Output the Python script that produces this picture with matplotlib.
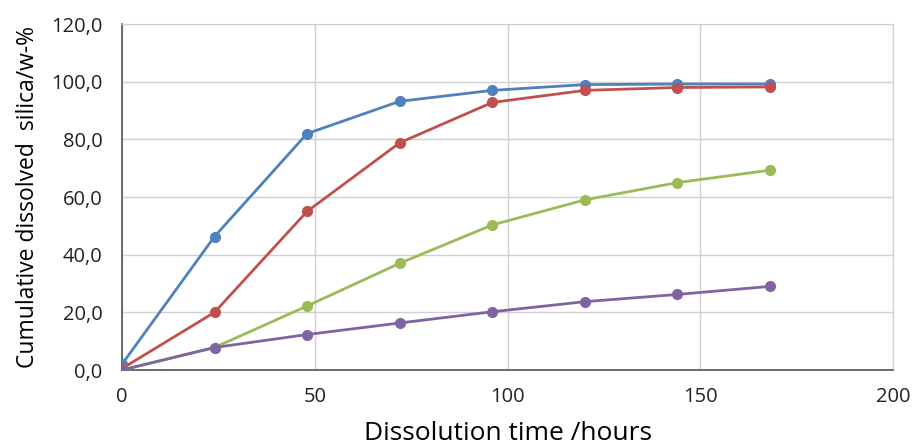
import matplotlib.pyplot as plt
from matplotlib.ticker import FuncFormatter

plt.rcParams['font.family'] = ['Open Sans', 'DejaVu Sans']

hours = [0, 24, 48, 72, 96, 120, 144, 168]
blue = [2.0, 46.3, 82.0, 93.2, 97.0, 99.0, 99.2, 99.2]
red = [0.5, 20.0, 55.0, 78.8, 92.8, 97.0, 98.0, 98.2]
green = [0.0, 7.8, 22.2, 37.0, 50.3, 59.0, 65.0, 69.3]
purple = [0.0, 7.8, 12.3, 16.3, 20.2, 23.7, 26.2, 29.0]

series = [(blue, '#4F81BD'), (red, '#C0504D'), (green, '#9BBB59'), (purple, '#8064A2')]

fig = plt.figure(figsize=(9.2, 4.46), dpi=100)
ax = fig.add_axes([0.1326, 0.1704, 0.8381, 0.7756])

for vals, c in series:
    ax.plot(hours, vals, color=c, lw=2, marker='o', ms=7, zorder=3)

ax.set_xlim(0, 200)
ax.set_ylim(0, 120)
ax.set_xticks([0, 50, 100, 150, 200])
ax.set_yticks(range(0, 121, 20))
ax.yaxis.set_major_formatter(FuncFormatter(lambda v, p: f'{v:.1f}'.replace('.', ',')))
ax.grid(color='#d0d0d0', lw=1)
ax.set_axisbelow(True)
for s in ['top', 'right']:
    ax.spines[s].set_color('#d0d0d0')
for s in ['left', 'bottom']:
    ax.spines[s].set_color('#555555')
    ax.spines[s].set_linewidth(1.2)
ax.tick_params(length=0, labelsize=14.5, colors='#222222')
ax.tick_params(axis='y', pad=14)
ax.tick_params(axis='x', pad=12)
ax.set_xlabel('Dissolution time /hours', fontsize=19, labelpad=10)
ax.set_ylabel('Cumulative dissolved  silica/w-%', fontsize=16.5, labelpad=8)

fig.savefig('out.png', dpi=100)
